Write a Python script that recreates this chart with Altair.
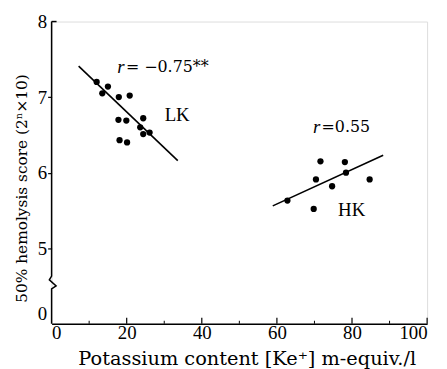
import altair as alt
import pandas as pd

# ---- data ----
lk_x = [12.0, 13.5, 15.0, 17.9, 20.8, 17.8, 19.9, 24.4, 23.6, 24.4, 26.1, 18.1, 20.1]
lk_y = [7.20, 7.05, 7.14, 7.00, 7.02, 6.70, 6.69, 6.72, 6.60, 6.51, 6.53, 6.43, 6.40]
hk_x = [71.6, 78.1, 70.4, 78.4, 74.7, 84.7, 62.8, 69.8]
hk_y = [6.15, 6.14, 5.91, 6.00, 5.82, 5.91, 5.63, 5.52]
lk_fit_x = [7.2, 33.6]
lk_fit_y = [7.41, 6.16]
hk_fit_x = [58.9, 88.3]
hk_fit_y = [5.56, 6.23]
x_major = [20, 40, 60, 80, 100]
x_minor = [10, 30, 50, 70, 90]
x_labels = [0, 20, 40, 60, 80, 100]
y_ticks = [4, 5, 6, 7, 8]
break_x = [0, 0, -0.6, 1.2, 0, 0]
break_y = [8, 4.63, 4.58, 4.50, 4.46, 4]

SERIF = "Liberation Serif"
W, H = 379, 305

pts = pd.DataFrame({"x": lk_x + hk_x, "y": lk_y + hk_y})
fits = pd.DataFrame({"x": lk_fit_x + hk_fit_x, "y": lk_fit_y + hk_fit_y,
                     "g": ["LK"] * 2 + ["HK"] * 2})
brk = pd.DataFrame({"x": break_x, "y": break_y, "o": list(range(len(break_x)))})

xs = alt.Scale(domain=[0, 100], nice=False)
ys = alt.Scale(domain=[4, 8], nice=False, zero=False)

XT = "Potassium content [Ke⁺] m-equiv./l"
YT = "50%  hemolysis  score (2ⁿ×10)"

points = alt.Chart(pts).mark_circle(size=40, color="black", opacity=1).encode(
    x=alt.X("x:Q", scale=xs, title=XT,
            axis=alt.Axis(values=x_labels, format="d", ticks=False, grid=False,
                          domainColor="black", domainWidth=1.6,
                          labelFont=SERIF, labelFontSize=19, labelColor="black",
                          labelPadding=0,
                          titleFont="DejaVu Serif", titleFontSize=19.5,
                          titleFontWeight="normal", titleColor="black",
                          titleX=197, titleY=41, titleAlign="center",
                          titleBaseline="alphabetic")),
    y=alt.Y("y:Q", scale=ys, title=YT,
            axis=alt.Axis(values=y_ticks, format="d", grid=False, domain=False,
                          tickColor="black", tickSize=4, tickWidth=1.2,
                          tickOpacity={"condition": {"test": "datum.value == 4 || datum.value == 8", "value": 0}, "value": 1},
                          labelExpr="datum.value == 4 ? '0' : datum.label",
                          labelBaseline={"condition": {"test": "datum.value == 4", "value": "bottom"}, "value": "middle"},
                          labelFont=SERIF, labelFontSize=19, labelColor="black",
                          labelPadding=1,
                          titleFont="DejaVu Serif", titleFontSize=15.5,
                          titleFontWeight="normal", titleColor="black",
                          titleX=-25, titleY=168, titleAlign="center",
                          titleAngle=270, titleBaseline="alphabetic")),
)

fit_lines = alt.Chart(fits).mark_line(color="black", strokeWidth=1.6).encode(
    x=alt.X("x:Q", scale=xs, title=XT),
    y=alt.Y("y:Q", scale=ys, title=YT),
    detail="g:N",
)

yaxis_line = alt.Chart(brk).mark_line(color="black", strokeWidth=1.5).encode(
    x=alt.X("x:Q", scale=xs, title=XT),
    y=alt.Y("y:Q", scale=ys, title=YT),
    order="o:Q",
)

top_tick = alt.Chart(pd.DataFrame({"y": [8]})).mark_rule(color="black", strokeWidth=1.5).encode(
    y=alt.Y("y:Q", scale=ys, title=YT),
    x=alt.value(0), x2=alt.value(5),
)

major = alt.Chart(pd.DataFrame({"x": x_major})).mark_rule(color="black", strokeWidth=1.2).encode(
    x=alt.X("x:Q", scale=xs, title=XT),
    y=alt.value(H), y2=alt.value(H - 6),
)
minor = alt.Chart(pd.DataFrame({"x": x_minor})).mark_rule(color="black", strokeWidth=1.0).encode(
    x=alt.X("x:Q", scale=xs, title=XT),
    y=alt.value(H), y2=alt.value(H - 3),
)

def label(x, y, text, style="normal", size=19, font=SERIF):
    return alt.Chart(pd.DataFrame({"x": [x], "y": [y], "t": [text]})).mark_text(
        font=font, fontSize=size, fontStyle=style, color="black",
        align="left", baseline="middle").encode(
        x=alt.X("x:Q", scale=xs, title=XT),
        y=alt.Y("y:Q", scale=ys, title=YT),
        text="t:N")

ann_lk_r = label(17.5, 7.40, "r", "italic", 19)
ann_lk_v = label(19.8, 7.40, "= −0.75**", "normal", 16, "DejaVu Serif")
ann_lk = label(30.1, 6.76, "LK")
ann_hk_r = label(69.6, 6.60, "r", "italic", 19)
ann_hk_v = label(71.9, 6.60, "=0.55", "normal", 16, "DejaVu Serif")
ann_hk = label(76.3, 5.51, "HK")

chart = alt.layer(
    points, yaxis_line, top_tick, major, minor, fit_lines,
    ann_lk_r, ann_lk_v, ann_lk, ann_hk_r, ann_hk_v, ann_hk,
).properties(
    width=W, height=H,
    padding={"left": 44, "top": 12, "right": 12, "bottom": 44},
    autosize=alt.AutoSizeParams(type="none"),
).configure_view(stroke=None).configure(background="white")

chart.save("out.html", embed_options={"renderer": "svg", "actions": False})
